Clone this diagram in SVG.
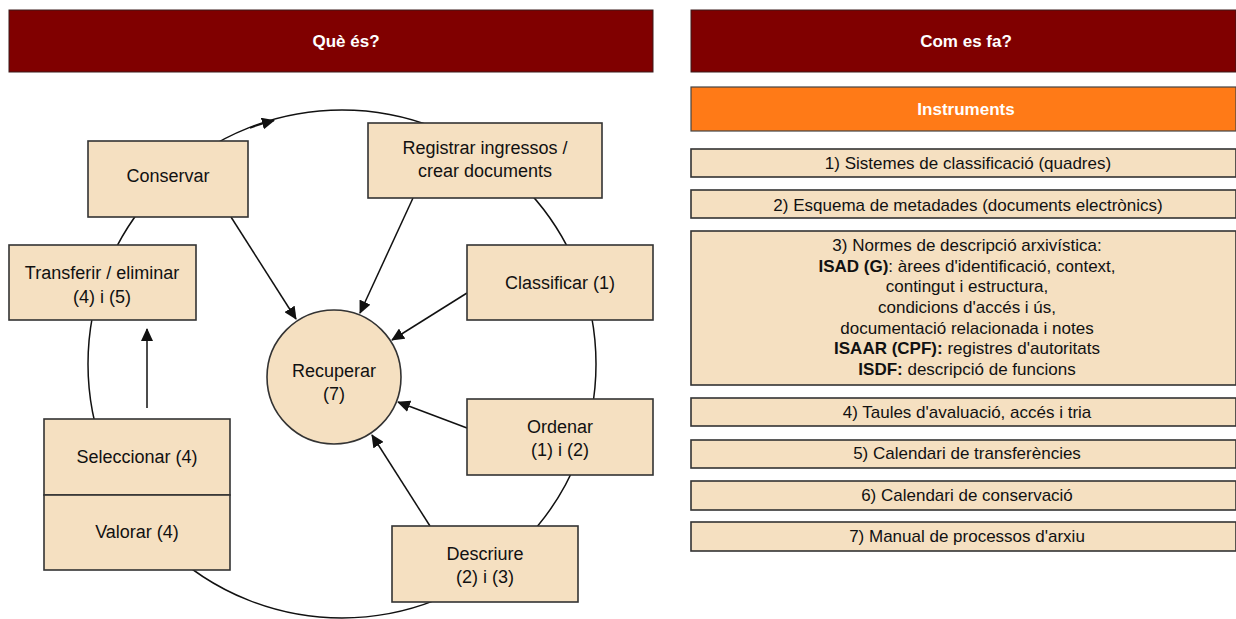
<svg xmlns="http://www.w3.org/2000/svg" width="1236" height="619" viewBox="0 0 1236 619">
<style>
.hdr{fill:#800000;stroke:#3a1a1a;stroke-width:1}
.box{fill:#F5E0C1;stroke:#333;stroke-width:1.6}
.org{fill:#FF7A17;stroke:#444;stroke-width:1.2}
.ht{font-family:"Liberation Sans",Arial,sans-serif;font-size:17px;font-weight:bold;fill:#fff;text-anchor:middle}
.nt{font-family:"Liberation Sans",Arial,sans-serif;font-size:18px;fill:#111;text-anchor:middle}
.rt{font-family:"Liberation Sans",Arial,sans-serif;font-size:17px;fill:#111;text-anchor:middle}
.b{font-weight:bold}
.ln{fill:none;stroke:#111;stroke-width:1.5}
</style>
<defs>
<marker id="ah" markerWidth="14" markerHeight="12" refX="12" refY="6" orient="auto" markerUnits="userSpaceOnUse">
<path d="M0,0 L13,6 L0,12 Z" fill="#111"/>
</marker>
</defs>
<rect width="1236" height="619" fill="#fff"/>

<g id="cycle">
<circle cx="342" cy="364" r="254" class="ln" stroke-width="1.3"/>
<path d="M250,128 A254,254 0 0 1 274,120.5" class="ln" marker-end="url(#ah)"/>
</g>

<g id="header-left"><rect class="hdr" x="9" y="10" width="644" height="62"/><text class="ht" x="346" y="47">Què és?</text></g>
<g id="header-right"><rect class="hdr" x="691" y="10" width="545" height="62"/><text class="ht" x="966" y="47">Com es fa?</text></g>

<g id="connectors">
<line class="ln" x1="231" y1="217" x2="296" y2="319" marker-end="url(#ah)"/>
<line class="ln" x1="413" y1="198" x2="360" y2="313" marker-end="url(#ah)"/>
<line class="ln" x1="467" y1="293" x2="392" y2="340" marker-end="url(#ah)"/>
<line class="ln" x1="467" y1="428" x2="398" y2="402" marker-end="url(#ah)"/>
<line class="ln" x1="430" y1="526" x2="372" y2="435" marker-end="url(#ah)"/>
<line class="ln" x1="147" y1="408" x2="147" y2="329" stroke="#333" marker-end="url(#ah)"/>
</g>

<g id="conservar"><rect class="box" x="88" y="141" width="160" height="76"/><text class="nt" x="168" y="182">Conservar</text></g>
<g id="registrar"><rect class="box" x="368" y="123" width="234" height="75"/><text class="nt" x="485" y="154">Registrar ingressos /</text><text class="nt" x="485" y="177">crear documents</text></g>
<g id="classificar"><rect class="box" x="467" y="245" width="186" height="75"/><text class="nt" x="560" y="289">Classificar (1)</text></g>
<g id="ordenar"><rect class="box" x="467" y="399" width="186" height="76"/><text class="nt" x="560" y="433">Ordenar</text><text class="nt" x="560" y="456">(1) i (2)</text></g>
<g id="descriure"><rect class="box" x="392" y="526" width="186" height="76"/><text class="nt" x="485" y="560">Descriure</text><text class="nt" x="485" y="583">(2) i (3)</text></g>
<g id="transferir"><rect class="box" x="9" y="245" width="187" height="75"/><text class="nt" x="102" y="279">Transferir / eliminar</text><text class="nt" x="102" y="303">(4) i (5)</text></g>
<g id="seleccionar"><rect class="box" x="44" y="419" width="186" height="76"/><text class="nt" x="137" y="463">Seleccionar (4)</text></g>
<g id="valorar"><rect class="box" x="44" y="495" width="186" height="75"/><text class="nt" x="137" y="538">Valorar (4)</text></g>
<g id="recuperar"><circle class="box" cx="334" cy="377" r="67"/><text class="nt" x="334" y="377">Recuperar</text><text class="nt" x="334" y="400">(7)</text></g>

<g id="instruments"><rect class="org" x="691" y="87" width="545" height="44"/><text class="ht" x="966" y="115">Instruments</text></g>
<g id="inst1"><rect class="box" x="691" y="149" width="545" height="28"/><text class="rt" x="968" y="169">1) Sistemes de classificació (quadres)</text></g>
<g id="inst2"><rect class="box" x="691" y="190" width="545" height="28"/><text class="rt" x="968" y="211">2) Esquema de metadades (documents electrònics)</text></g>
<g id="inst3"><rect class="box" x="691" y="231" width="545" height="154"/>
<text class="rt" x="967" y="251">3) Normes de descripció arxivística:</text>
<text class="rt" x="967" y="272"><tspan class="b">ISAD (G)</tspan>: àrees d'identificació, context,</text>
<text class="rt" x="967" y="292">contingut i estructura,</text>
<text class="rt" x="967" y="313">condicions d'accés i ús,</text>
<text class="rt" x="967" y="334">documentació relacionada i notes</text>
<text class="rt" x="967" y="354"><tspan class="b">ISAAR (CPF):</tspan> registres d'autoritats</text>
<text class="rt" x="967" y="375"><tspan class="b">ISDF:</tspan> descripció de funcions</text>
</g>
<g id="inst4"><rect class="box" x="691" y="398" width="545" height="28"/><text class="rt" x="967" y="418">4) Taules d'avaluació, accés i tria</text></g>
<g id="inst5"><rect class="box" x="691" y="440" width="545" height="28"/><text class="rt" x="967" y="459">5) Calendari de transferències</text></g>
<g id="inst6"><rect class="box" x="691" y="481" width="545" height="29"/><text class="rt" x="967" y="501">6) Calendari de conservació</text></g>
<g id="inst7"><rect class="box" x="691" y="522" width="545" height="29"/><text class="rt" x="967" y="542">7) Manual de processos d'arxiu</text></g>
</svg>
